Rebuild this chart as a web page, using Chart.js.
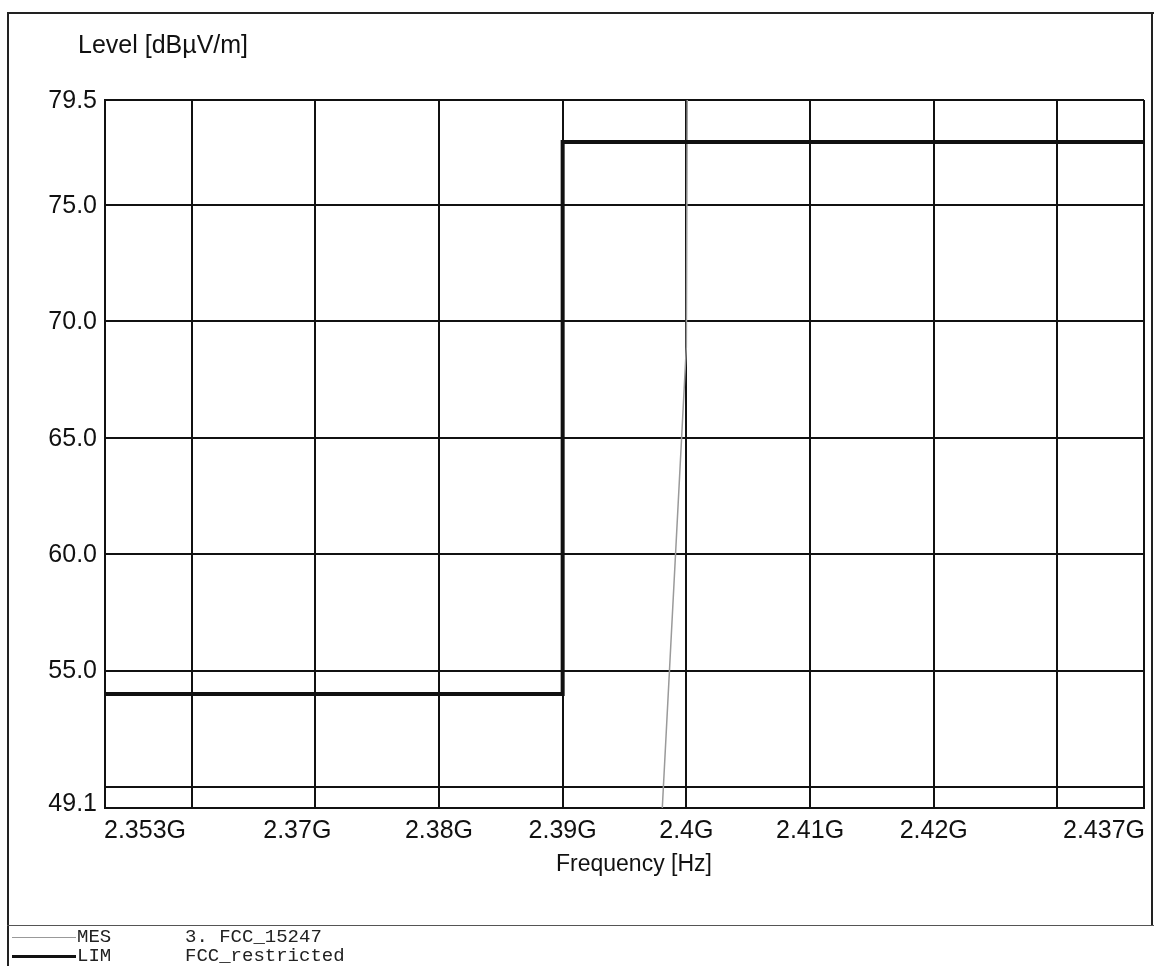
<!DOCTYPE html>
<html>
<head>
<meta charset="utf-8">
<script src="https://cdn.jsdelivr.net/npm/chart.js@4.4.1/dist/chart.umd.min.js"></script>
<style>
  body{margin:0;background:#fff;font-family:"Liberation Sans",Arial,sans-serif;}
  #wrap{position:relative;width:1154px;height:966px;overflow:hidden;}
  #chart{position:absolute;left:0;top:0;}
  .line{position:absolute;background:#222;}
  .txt{position:absolute;white-space:nowrap;color:#111;}
  .leg{position:absolute;font-family:"Liberation Mono","Courier New",monospace;font-size:19px;line-height:20px;color:#222;white-space:pre;}
  .swatch{position:absolute;}
</style>
</head>
<body>
<div id="wrap">
  <canvas id="chart" width="1154" height="966"></canvas>

  <!-- outer frame and legend separator -->
  <div class="line" style="left:7px;top:12px;width:1147px;height:2px;"></div>
  <div class="line" style="left:7px;top:12px;width:2px;height:954px;"></div>
  <div class="line" style="left:1151px;top:12px;width:2px;height:914px;"></div>
  <div class="line" style="left:7px;top:925px;width:1147px;height:1px;background:#555;"></div>

  <div class="txt" style="left:78px;top:30px;font-size:25px;">Level [dBµV/m]</div>
  <div class="txt" style="left:556px;top:850px;font-size:23px;">Frequency [Hz]</div>

  <div class="swatch" style="left:12px;top:937px;width:64px;height:1px;background:#999;"></div>
  <div class="leg" style="left:77px;top:927px;">MES</div>
  <div class="leg" style="left:185px;top:927px;">3. FCC_15247</div>
  <div class="swatch" style="left:12px;top:955px;width:64px;height:3px;background:#111;"></div>
  <div class="leg" style="left:77px;top:946px;">LIM</div>
  <div class="leg" style="left:185px;top:946px;">FCC_restricted</div>
</div>

<script>
// ---------- DATA ----------
const freqTicks  = [2.353, 2.36, 2.37, 2.38, 2.39, 2.40, 2.41, 2.42, 2.43, 2.437];
const freqLabels = ['2.353G', '', '2.37G', '2.38G', '2.39G', '2.4G', '2.41G', '2.42G', '', '2.437G'];
const levelTicks  = [49.1, 50, 55, 60, 65, 70, 75, 79.5];
const levelLabels = ['49.1', '', '55.0', '60.0', '65.0', '70.0', '75.0', '79.5'];

// limit line FCC_restricted
const limFreq  = [2.353, 2.39, 2.39, 2.437];
const limLevel = [54.0, 54.0, 77.7, 77.7];

// measured trace MES 3. FCC_15247
const mesFreq  = [2.3978, 2.4000, 2.4001];
const mesLevel = [46.5, 68.9, 84.0];

const toXY = (xs, ys) => xs.map((x, i) => ({x: x, y: ys[i]}));

// ---------- TICK LABELS ----------
// labels drawn by hand so the first/last can hug the plot edges
const tickLabels = {
  id: 'tickLabels',
  afterDraw(chart){
    const c = chart.ctx, xs = chart.scales.x, ys = chart.scales.y, a = chart.chartArea;
    c.save();
    c.fillStyle = '#111';
    c.textBaseline = 'middle';
    c.font = '25px "Liberation Sans", Arial, sans-serif';
    freqTicks.forEach((v, i) => {
      if(!freqLabels[i]) return;
      let px = xs.getPixelForValue(v);
      c.textAlign = 'center';
      if(i === 0){ c.textAlign = 'left'; px = a.left - 1; }
      else if(i === freqTicks.length - 1){ c.textAlign = 'right'; px = a.right + 1; }
      else if(v === 2.37) px -= 18;
      c.fillText(freqLabels[i], px, a.bottom + 23);
    });
    c.textAlign = 'right';
    levelTicks.forEach((v, i) => {
      if(!levelLabels[i]) return;
      let py = ys.getPixelForValue(v);
      if(i === 0) py -= 5;
      c.fillText(levelLabels[i], a.left - 8, py + 1);
    });
    c.restore();
  }
};

// ---------- CHART ----------
const ctx = document.getElementById('chart').getContext('2d');
new Chart(ctx, {
  type: 'line',
  data: {
    datasets: [
      {
        label: 'MES 3. FCC_15247',
        data: toXY(mesFreq, mesLevel),
        borderColor: '#9a9a9a',
        borderWidth: 1.5,
        pointRadius: 0,
        tension: 0,
        order: 2
      },
      {
        label: 'LIM FCC_restricted',
        data: toXY(limFreq, limLevel),
        borderColor: '#111',
        borderWidth: 4,
        pointRadius: 0,
        tension: 0,
        order: 1
      }
    ]
  },
  options: {
    responsive: false,
    animation: false,
    events: [],
    layout: {padding: {left: 105, top: 100, right: 10, bottom: 158}},
    plugins: {legend: {display: false}, tooltip: {enabled: false}},
    scales: {
      x: {
        type: 'linear',
        min: freqTicks[0],
        max: freqTicks[freqTicks.length - 1],
        afterBuildTicks: s => { s.ticks = freqTicks.map(v => ({value: v})); },
        afterFit: s => { s.height = 0; },
        ticks: {display: false},
        grid: {color: '#111', lineWidth: 2, drawTicks: false},
        border: {color: '#111', width: 2}
      },
      y: {
        type: 'linear',
        min: levelTicks[0],
        max: levelTicks[levelTicks.length - 1],
        afterBuildTicks: s => { s.ticks = levelTicks.map(v => ({value: v})); },
        afterFit: s => { s.width = 0; },
        ticks: {display: false},
        grid: {color: '#111', lineWidth: 2, drawTicks: false},
        border: {color: '#111', width: 2}
      }
    }
  },
  plugins: [tickLabels]
});
</script>
</body>
</html>
